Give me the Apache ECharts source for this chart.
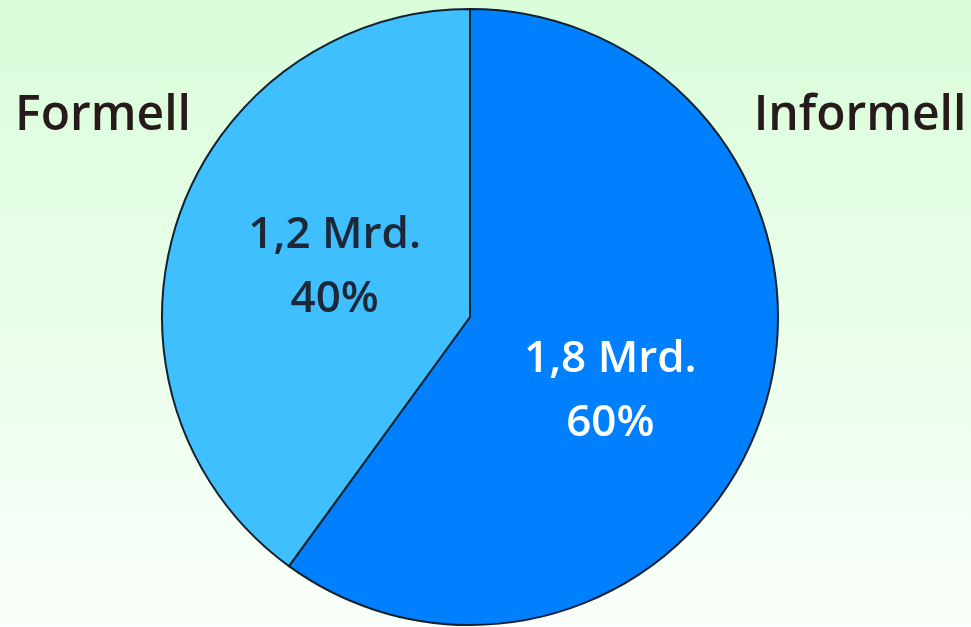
<!DOCTYPE html>
<html>
<head>
<meta charset="utf-8">
<style>html,body{margin:0;padding:0;}#c{width:971px;height:627px;}</style>
<script src="https://cdn.jsdelivr.net/npm/echarts@6/dist/echarts.min.js"></script>
</head>
<body>
<div id="c"></div>
<script>
const categories = ['Informell', 'Formell'];
const values = [1.8, 1.2];
const unit = 'Mrd.';
const colors = ['#0080ff', '#40bfff'];
const innerTextColors = ['#ffffff', '#1c2838'];

const chart = echarts.init(document.getElementById('c'));
const fmt = p => p.value.toFixed(1).replace('.', ',') + ' ' + unit + '\n' + Math.round(p.percent) + '%';
const innerOffsets = [[-9, 26], [14, -1]];
const outerPos = [[860, 116], [103, 116]];

chart.setOption({
  backgroundColor: {
    type: 'linear', x: 0, y: 0, x2: 0, y2: 1,
    colorStops: [{offset: 0, color: '#d9fdd9'}, {offset: 1, color: '#f9fffa'}]
  },
  animation: false,
  series: [
    {
      type: 'pie',
      center: [470, 317],
      radius: 308,
      startAngle: 90,
      clockwise: true,
      silent: true,
      itemStyle: {borderColor: '#12222e', borderWidth: 2},
      label: {
        position: 'inside',
        formatter: fmt,
        fontFamily: 'Open Sans',
        fontWeight: 600,
        fontSize: 44,
        lineHeight: 64
      },
      labelLine: {show: false},
      data: categories.map((n, i) => ({
        name: n, value: values[i],
        itemStyle: {color: colors[i]},
        label: {color: innerTextColors[i], offset: innerOffsets[i]}
      }))
    },
    {
      type: 'pie',
      center: [470, 317],
      radius: 308,
      startAngle: 90,
      silent: true,
      itemStyle: {color: 'rgba(0,0,0,0)', borderWidth: 0},
      label: {
        position: 'outside',
        formatter: '{b}',
        color: '#261a1a',
        fontFamily: 'Open Sans',
        fontWeight: 600,
        fontSize: 48,
        overflow: 'none'
      },
      labelLine: {show: false},
      labelLayout: p => ({x: outerPos[p.dataIndex][0], y: outerPos[p.dataIndex][1], align: 'center', verticalAlign: 'middle'}),
      data: categories.map((n, i) => ({name: n, value: values[i]}))
    }
  ]
});
</script>
</body>
</html>
